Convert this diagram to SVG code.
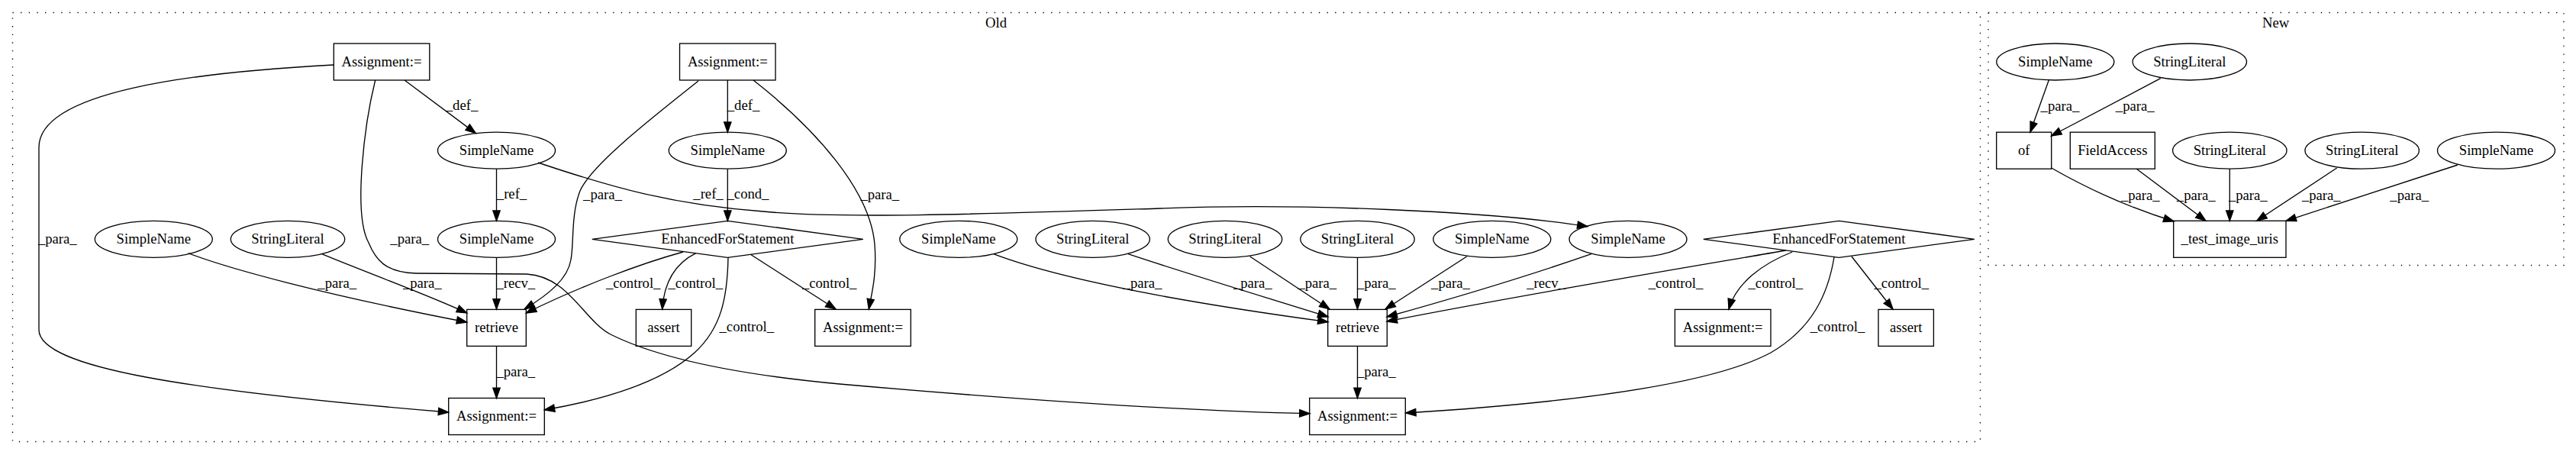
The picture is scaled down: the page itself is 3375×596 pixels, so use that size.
<svg xmlns="http://www.w3.org/2000/svg" width="3375" height="596" viewBox="0 0 3375 596">
<style>
.n{fill:none;stroke:#000;stroke-width:1.33}
.e{fill:none;stroke:#000;stroke-width:1.33;marker-end:url(#ah)}
.c{fill:none;stroke:#000;stroke-width:1.33;stroke-dasharray:1.33 9.3}
text{font-family:"Liberation Serif","Times New Roman",serif;font-size:18.67px;text-anchor:middle;fill:#000}
</style>
<defs>
<marker id="ah" markerUnits="userSpaceOnUse" markerWidth="16" markerHeight="12" refX="13.3" refY="4.67" orient="auto" overflow="visible">
<path d="M0,0L13.3,4.67L0,9.33z" fill="#000" stroke="#000" stroke-width="1.33"/>
</marker>
</defs>
<rect x="0" y="0" width="3375" height="596" fill="#fff"/>

<g id="cluster_old">
<rect class="c" x="16.5" y="16.5" width="2578" height="562"/>
<text x="1305" y="36.3">Old</text>
</g>
<g id="cluster_new">
<rect class="c" x="2605" y="16.5" width="754" height="331"/>
<text x="2981.7" y="36.3">New</text>
</g>

<g id="connectors">
<path class="e" d="M437,85 C250,95 51,120 51,193 L51,432 C51,482 250,512 587.7,540"/>
<text x="75.3" y="318.9">_para_</text>
<path class="e" d="M491.7,105 C478,160 462,280 483,318 C492,340 505,357 545,358 L690,359 C745,362 765,420 800,438 C860,468 960,490 1100,503 C1350,525 1550,538 1716,541.7"/>
<text x="536.7" y="318.9">_para_</text>
<path class="e" d="M530,105 L623.3,174.6"/>
<text x="605" y="144">_def_</text>
<path class="e" d="M650.5,221 L650.5,289.3"/>
<text x="670.5" y="260">_ref_</text>
<path class="e" d="M705,213 C800,245 880,268 1000,277 C1100,287 1300,280 1520,273 C1700,266 1950,276 2080,296.7"/>
<text x="928" y="260">_ref_</text>
<path class="e" d="M246.7,331.7 C300,352 420,385 611.7,422"/>
<text x="441.7" y="377.3">_para_</text>
<path class="e" d="M421.7,332.7 C470,353 560,386 611.7,410"/>
<text x="553.3" y="377.3">_para_</text>
<path class="e" d="M650.5,337.3 L650.5,405"/>
<text x="675.8" y="377.3">_recv_</text>
<path class="e" d="M915,106 C860,150 775,215 760,250 C748,280 752,320 748,340 C744,365 720,385 687,405"/>
<text x="789.5" y="260.6">_para_</text>
<path class="e" d="M895,330 C840,345 760,375 689.3,410"/>
<text x="829.7" y="377.3">_control_</text>
<path class="e" d="M911.7,331.7 C885,345 870,370 867.7,405"/>
<text x="911.3" y="377.3">_control_</text>
<path class="e" d="M954,337 C953,390 945,430 910,462 C870,498 800,522 713.3,537"/>
<text x="978.3" y="433.9">_control_</text>
<path class="e" d="M983.3,333.3 L1095,405"/>
<text x="1086.7" y="377.3">_control_</text>
<path class="e" d="M953.3,105 L953.3,173.2"/>
<text x="974" y="144">_def_</text>
<path class="e" d="M953.3,221.2 L953.3,289.3"/>
<text x="980" y="260">_cond_</text>
<path class="e" d="M987,105 C1070,170 1140,250 1146,320 C1149,360 1142,385 1138.3,405"/>
<text x="1152.8" y="260.6">_para_</text>
<path class="e" d="M1301.7,332.7 C1400,370 1580,400 1740,421.7"/>
<text x="1497" y="377.3">_para_</text>
<path class="e" d="M1478,332.7 C1560,360 1660,390 1740,415"/>
<text x="1641.3" y="377.3">_para_</text>
<path class="e" d="M1637.7,336 L1742,405"/>
<text x="1725.8" y="377.3">_para_</text>
<path class="e" d="M1778.5,337.3 L1778.5,405"/>
<text x="1803.3" y="377.3">_para_</text>
<path class="e" d="M1921.7,336 L1815,405"/>
<text x="1900.5" y="377.3">_para_</text>
<path class="e" d="M2085,332.7 C2000,362 1900,392 1817,415"/>
<text x="2025.6" y="377.3">_recv_</text>
<path class="e" d="M2340,328 C2200,352 2000,385 1817,421"/>
<text x="2195.5" y="377.3">_control_</text>
<path class="e" d="M2348.3,330 C2310,345 2275,370 2265,405"/>
<text x="2326.3" y="377.3">_control_</text>
<path class="e" d="M2426,336 L2480,405"/>
<text x="2491.3" y="377.3">_control_</text>
<path class="e" d="M2403,337 C2395,385 2375,430 2320,462 C2240,505 2050,528 1841.7,541"/>
<text x="2407.5" y="433.9">_control_</text>
<path class="e" d="M1778.5,453.4 L1778.5,521.5"/>
<text x="1803.3" y="493.3">_para_</text>
<path class="e" d="M650.5,453.4 L650.5,521.5"/>
<text x="675.8" y="493.3">_para_</text>

<path class="e" d="M2684.3,105 L2660,173"/>
<text x="2699" y="144.9">_para_</text>
<path class="e" d="M2830.7,102.7 L2687.5,178"/>
<text x="2797.2" y="144.9">_para_</text>
<path class="e" d="M2687.7,220 C2740,250 2790,272 2848,290"/>
<text x="2804.3" y="261.6">_para_</text>
<path class="e" d="M2799.3,221.2 L2890,289.3"/>
<text x="2877.2" y="261.6">_para_</text>
<path class="e" d="M2921.3,221.2 L2921.3,289.3"/>
<text x="2945.3" y="261.6">_para_</text>
<path class="e" d="M3061.7,220 L2956.7,289.3"/>
<text x="3041.3" y="261.6">_para_</text>
<path class="e" d="M3220,216 L2995,289.3"/>
<text x="3156.7" y="261.6">_para_</text>
</g>

<g id="A1"><rect class="n" x="437.3" y="57" width="125.5" height="48"/><text x="500" y="86.6">Assignment:=</text></g>
<g id="A2"><rect class="n" x="890.5" y="57" width="125.5" height="48"/><text x="953.3" y="86.6">Assignment:=</text></g>
<g id="S1"><ellipse class="n" cx="650.5" cy="197.2" rx="77" ry="24"/><text x="650.5" y="202.8">SimpleName</text></g>
<g id="S4"><ellipse class="n" cx="953.3" cy="197.2" rx="77" ry="24"/><text x="953.3" y="202.8">SimpleName</text></g>
<g id="S3"><ellipse class="n" cx="201.3" cy="313.3" rx="77" ry="24"/><text x="201.3" y="318.9">SimpleName</text></g>
<g id="L1"><ellipse class="n" cx="377" cy="313.3" rx="74.7" ry="24"/><text x="377" y="318.9">StringLiteral</text></g>
<g id="S2"><ellipse class="n" cx="650.5" cy="313.3" rx="77" ry="24"/><text x="650.5" y="318.9">SimpleName</text></g>
<g id="E1"><polygon class="n" points="953.3,289.3 1130.8,313.3 953.3,337.3 775.8,313.3"/><text x="953.3" y="318.9">EnhancedForStatement</text></g>
<g id="S5"><ellipse class="n" cx="1255.8" cy="313.3" rx="77" ry="24"/><text x="1255.8" y="318.9">SimpleName</text></g>
<g id="L2"><ellipse class="n" cx="1431.7" cy="313.3" rx="74.7" ry="24"/><text x="1431.7" y="318.9">StringLiteral</text></g>
<g id="L3"><ellipse class="n" cx="1605" cy="313.3" rx="74.7" ry="24"/><text x="1605" y="318.9">StringLiteral</text></g>
<g id="L4"><ellipse class="n" cx="1778.5" cy="313.3" rx="74.7" ry="24"/><text x="1778.5" y="318.9">StringLiteral</text></g>
<g id="S6"><ellipse class="n" cx="1954.8" cy="313.3" rx="77" ry="24"/><text x="1954.8" y="318.9">SimpleName</text></g>
<g id="S7"><ellipse class="n" cx="2133" cy="313.3" rx="77" ry="24"/><text x="2133" y="318.9">SimpleName</text></g>
<g id="E2"><polygon class="n" points="2409.3,289.3 2586.8,313.3 2409.3,337.3 2231.8,313.3"/><text x="2409.3" y="318.9">EnhancedForStatement</text></g>
<g id="R1"><rect class="n" x="611.7" y="405.4" width="77.6" height="48"/><text x="650.5" y="435">retrieve</text></g>
<g id="AS1"><rect class="n" x="833.3" y="405.4" width="72.4" height="48"/><text x="869.5" y="435">assert</text></g>
<g id="B2"><rect class="n" x="1067.7" y="405.4" width="125.6" height="48"/><text x="1130.5" y="435">Assignment:=</text></g>
<g id="R2"><rect class="n" x="1739.7" y="405.4" width="77.6" height="48"/><text x="1778.5" y="435">retrieve</text></g>
<g id="B4"><rect class="n" x="2194.4" y="405.4" width="125.6" height="48"/><text x="2257.2" y="435">Assignment:=</text></g>
<g id="AS2"><rect class="n" x="2461" y="405.4" width="72.4" height="48"/><text x="2497.2" y="435">assert</text></g>
<g id="B1"><rect class="n" x="587.7" y="521.5" width="125.6" height="48"/><text x="650.5" y="551.1">Assignment:=</text></g>
<g id="B3"><rect class="n" x="1715.7" y="521.5" width="125.6" height="48"/><text x="1778.5" y="551.1">Assignment:=</text></g>

<g id="N1"><ellipse class="n" cx="2692.8" cy="81" rx="77" ry="24"/><text x="2692.8" y="86.6">SimpleName</text></g>
<g id="N2"><ellipse class="n" cx="2868.8" cy="81" rx="74.7" ry="24"/><text x="2868.8" y="86.6">StringLiteral</text></g>
<g id="OF"><rect class="n" x="2615.7" y="173.2" width="72" height="48"/><text x="2651.7" y="202.8">of</text></g>
<g id="FA"><rect class="n" x="2712.3" y="173.2" width="111" height="48"/><text x="2767.8" y="202.8">FieldAccess</text></g>
<g id="N3"><ellipse class="n" cx="2921.3" cy="197.2" rx="74.7" ry="24"/><text x="2921.3" y="202.8">StringLiteral</text></g>
<g id="N4"><ellipse class="n" cx="3094.7" cy="197.2" rx="74.7" ry="24"/><text x="3094.7" y="202.8">StringLiteral</text></g>
<g id="N5"><ellipse class="n" cx="3270.5" cy="197.2" rx="77" ry="24"/><text x="3270.5" y="202.8">SimpleName</text></g>
<g id="T"><rect class="n" x="2847.7" y="289.3" width="147.3" height="48"/><text x="2921.3" y="318.9">_test_image_uris</text></g>
</svg>
